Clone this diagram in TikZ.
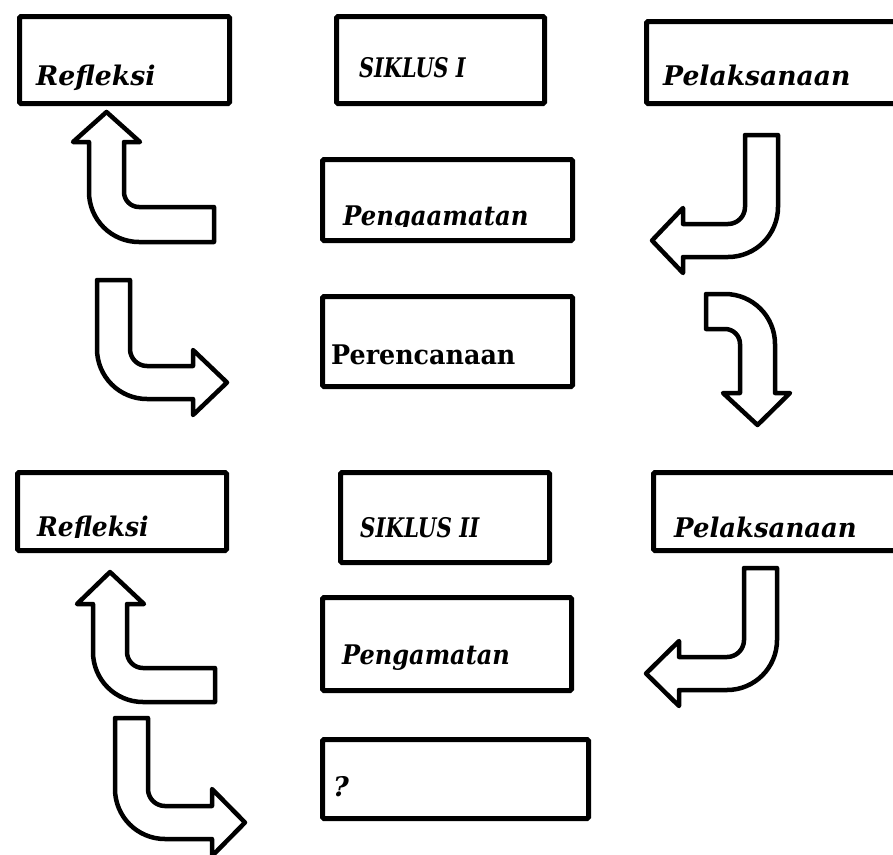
\documentclass[tikz,border=0pt]{standalone}
\usepackage{fontspec}
\usepackage{graphicx}
\setmainfont{DejaVu Serif}
\newcommand{\sx}[2]{\scalebox{#1}[1]{#2}}
\begin{document}
\begin{tikzpicture}[x=1pt,y=-1pt,
  box/.style={draw,line width=5pt,rounded corners=1.5pt,inner sep=0pt,anchor=north west},
  lbl/.style={anchor=base west,inner sep=0pt,font=\bfseries\itshape\fontsize{27}{30}\selectfont},
  lblup/.style={anchor=base west,inner sep=0pt,font=\bfseries\fontsize{27}{30}\selectfont},
  barrow/.style={draw,line width=4.5pt,line join=round,fill=white}]
\clip (0,0) rectangle (893,854);
\fill[white] (0,0) rectangle (893,854);
% ---- boxes
\node[box,minimum width=210pt,minimum height=87pt] (r1) at (17,14) {};
\node[box,minimum width=208pt,minimum height=87pt] (s1) at (334,14) {};
\node[box,minimum width=260pt,minimum height=82pt] (p1) at (644,19) {};
\node[box,minimum width=250pt,minimum height=81pt] (g1) at (320,157) {};
\node[box,minimum width=250pt,minimum height=90pt] (e1) at (320,294) {};
\node[box,minimum width=209pt,minimum height=78pt] (r2) at (15,470) {};
\node[box,minimum width=209pt,minimum height=90pt] (s2) at (338,470) {};
\node[box,minimum width=260pt,minimum height=78pt] (p2) at (651,470) {};
\node[box,minimum width=249pt,minimum height=93pt] (g2) at (320,595) {};
\node[box,minimum width=266pt,minimum height=79pt] (q) at (320,737) {};
% ---- labels
\node[lbl] (tr1) at (36,85) {\sx{0.99}{Refleksi}};
\node[lbl] (ts1) at (359,77) {\sx{0.77}{SIKLUS I}};
\node[lbl] (tp1) at (663,85) {\sx{0.985}{Pelaksanaan}};
\begin{scope}
  \clip (322,159) rectangle (568,226.5);
  \node[lbl] (tg1) at (343,225) {\sx{0.9}{Pengaamatan}};
\end{scope}
\node[lblup] (te1) at (331,364) {\sx{0.94}{Perencanaan}};
\begin{scope}
  \clip (17,472) rectangle (222,537.5);
  \node[lbl] (tr2) at (37,536) {\sx{0.925}{Refleksi}};
\end{scope}
\node[lbl] (ts2) at (360,537) {\sx{0.79}{SIKLUS II}};
\begin{scope}
  \clip (653,472) rectangle (893,538);
  \node[lbl] (tp2) at (674,537) {\sx{0.96}{Pelaksanaan}};
\end{scope}
\node[lbl] (tg2) at (342,664) {\sx{0.89}{Pengamatan}};
\node[lbl] (tq) at (333,796) {?};
% ---- bent block arrows
% A1 up-left (below Refleksi I)
\draw[barrow] (89,142) -- (89,192) arc(180:90:50) -- (214,242) -- (214,207) -- (139,207) arc(90:180:15) -- (124,142) -- (140,142) -- (106.5,112) -- (73,142) -- cycle;
% A2 down-left (below Pelaksanaan I)
\draw[barrow] (778,135) -- (778,207) arc(0:90:50) -- (683,257) -- (683,273) -- (652,240.5) -- (683,208) -- (683,224) -- (728,224) arc(90:0:17) -- (745,135) -- cycle;
% A3 down-right (left, row 2)
\draw[barrow] (97,280) -- (97,349) arc(180:90:50) -- (193,399) -- (193,415) -- (227,382.5) -- (193,350) -- (193,366) -- (147,366) arc(90:180:17) -- (130,280) -- cycle;
% A4 right-down (right, row 2)
\draw[barrow] (706,294) -- (725,294) arc(-90:0:50) -- (775,393) -- (790,393) -- (757.5,425) -- (723,393) -- (740,393) -- (740,344) arc(0:-90:15) -- (706,329) -- cycle;
% A5 up-left (below Refleksi II)
\draw[barrow] (93,604) -- (93,652) arc(180:90:50) -- (215,702) -- (215,668) -- (143,668) arc(90:180:16) -- (127,604) -- (144,604) -- (110,572) -- (77,604) -- cycle;
% A6 down-left (below Pelaksanaan II)
\draw[barrow] (777,568) -- (777,640) arc(0:90:50) -- (679,690) -- (679,706) -- (646,673.5) -- (679,641) -- (679,657) -- (727,657) arc(90:0:17) -- (744,568) -- cycle;
% A7 down-right (bottom left)
\draw[barrow] (115,718) -- (115,789) arc(180:90:50) -- (212,839) -- (212,856) -- (245,822.5) -- (212,789) -- (212,806) -- (165,806) arc(90:180:17) -- (148,718) -- cycle;
\end{tikzpicture}
\end{document}
